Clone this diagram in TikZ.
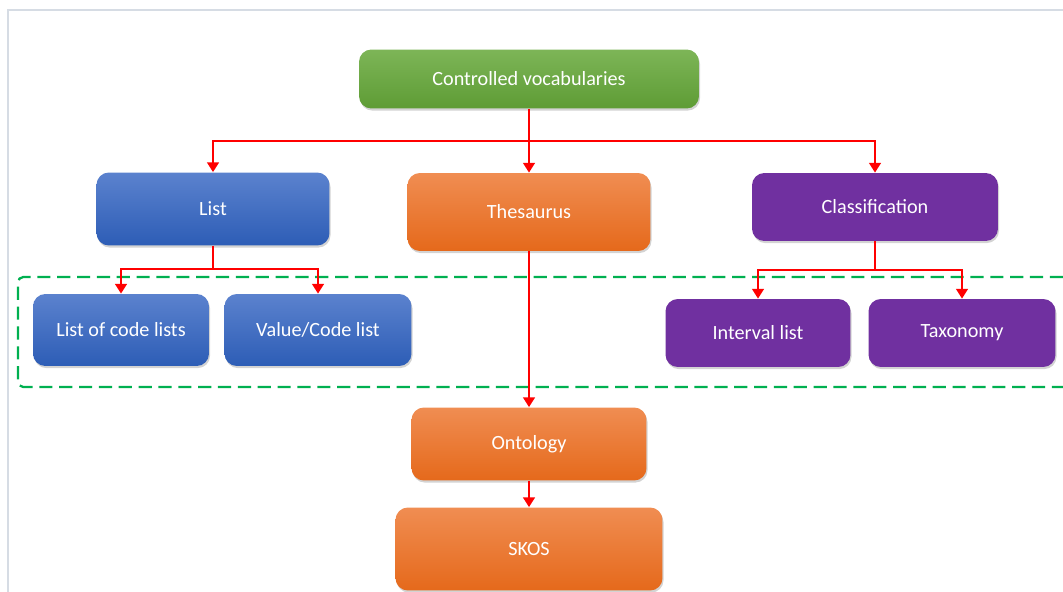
\documentclass[tikz,border=0pt]{standalone}
\usepackage{fontspec}
\setmainfont{Carlito}
\usepackage{tikz}
\usetikzlibrary{arrows.meta,shadows}

\definecolor{greentop}{HTML}{7DB557}
\definecolor{greenbot}{HTML}{5E9C35}
\definecolor{bluetop}{HTML}{5B82CE}
\definecolor{bluebot}{HTML}{2D5DB6}
\definecolor{orangetop}{HTML}{F08D52}
\definecolor{orangebot}{HTML}{E5691B}
\definecolor{classpurple}{HTML}{7030A0}
\definecolor{groupgreen}{HTML}{00B050}
\definecolor{framegray}{HTML}{D6DCE4}

\tikzset{
  box/.style={rounded corners=7pt, text=white, align=center,
    font=\fontsize{11.5}{14}\selectfont,
    drop shadow={shadow xshift=0.6pt, shadow yshift=-1.2pt, opacity=0.35}},
  greenbox/.style={box, top color=greentop, bottom color=greenbot},
  bluebox/.style={box, top color=bluetop, bottom color=bluebot},
  orangebox/.style={box, top color=orangetop, bottom color=orangebot},
  purplebox/.style={box, fill=classpurple},
  link/.style={red, line width=1.7pt, -{Triangle[length=5.5pt,width=6.5pt]}},
  bus/.style={red, line width=1.7pt}
}

\begin{document}
\begin{tikzpicture}[x=0.02cm, y=-0.02cm]
  \useasboundingbox (0,0) rectangle (1063,592);
  % frame of the slide
  \draw[framegray, line width=0.6pt] (8,592) -- (8,10) -- (1063,10);

  % group of lists
  \draw[groupgreen, line width=1.3pt, dash pattern=on 7.5pt off 3.8pt, rounded corners=3pt]
    (1063,277) -- (18,277) -- (18,387) -- (1063,387);

  \node[greenbox, minimum width=6.8cm, minimum height=1.18cm] (CV) at (529,79) {Controlled vocabularies};
  \node[bluebox, minimum width=4.66cm, minimum height=1.46cm] (List) at (213,209) {List};
  \node[orangebox, minimum width=4.86cm, minimum height=1.56cm] (Thes) at (529,212) {Thesaurus};
  \node[purplebox, minimum width=4.92cm, minimum height=1.36cm] (Class) at (875,207) {Classification};
  \node[bluebox, minimum width=3.52cm, minimum height=1.44cm] (LoCL) at (121,330) {List of code lists};
  \node[bluebox, minimum width=3.74cm, minimum height=1.44cm] (VCL) at (318,330) {Value/Code list};
  \node[purplebox, minimum width=3.7cm, minimum height=1.36cm] (Interval) at (758,333) {Interval list};
  \node[purplebox, minimum width=3.74cm, minimum height=1.36cm] (Tax) at (962,333) {Taxonomy};
  \node[orangebox, minimum width=4.7cm, minimum height=1.46cm] (Onto) at (529,444) {Ontology};
  \node[orangebox, minimum width=5.34cm, minimum height=1.66cm] (SKOS) at (529,549) {SKOS};

  \coordinate (cvbus) at (529,141);
  \coordinate (listbus) at (213,269);
  \coordinate (classbus) at (875,270);

  \draw[bus] (CV) -- (cvbus);
  \draw[link] (cvbus) -| (List);
  \draw[link] (cvbus) -| (Class);
  \draw[link] (cvbus) -- (Thes);
  \draw[bus] (List) -- (listbus);
  \draw[link] (listbus) -| (LoCL);
  \draw[link] (listbus) -| (VCL);
  \draw[bus] (Class) -- (classbus);
  \draw[link] (classbus) -| (Interval);
  \draw[link] (classbus) -| (Tax);
  \draw[link] (Thes) -- (Onto);
  \draw[link] (Onto) -- (SKOS);
\end{tikzpicture}
\end{document}
